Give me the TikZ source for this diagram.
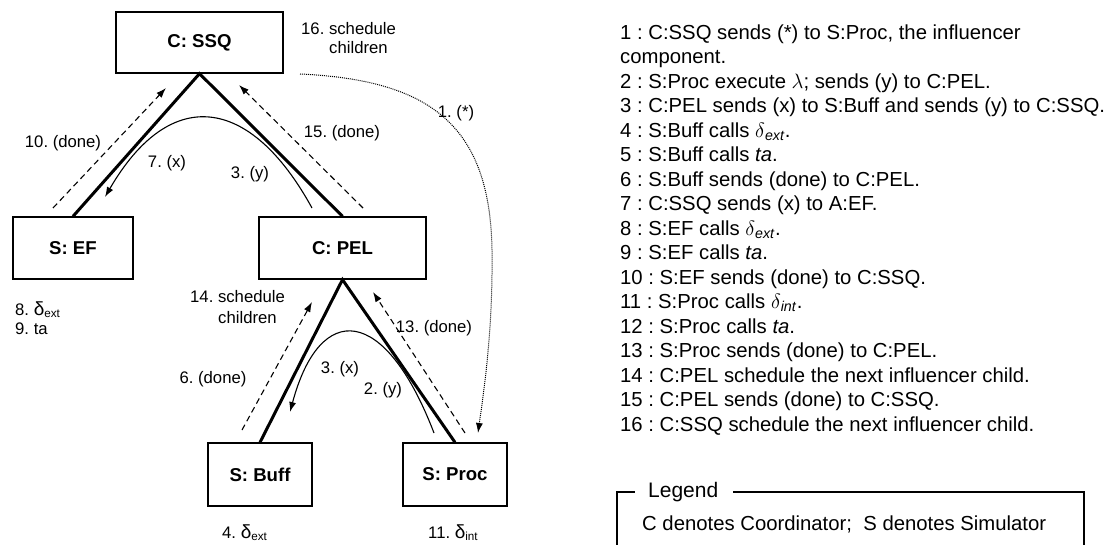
\documentclass[tikz,border=0pt]{standalone}
\usepackage{fontspec}
\setmainfont{Liberation Sans}
\usetikzlibrary{arrows.meta}
\frenchspacing
\begin{document}
\frenchspacing
\begin{tikzpicture}[x=1pt,y=-1pt,
  box/.style={draw,line width=1.3pt,inner sep=0pt,font=\fontsize{18.6}{20}\selectfont\bfseries},
  tree/.style={line width=3pt,line join=miter},
  msg/.style={line width=1.1pt,dash pattern=on 6pt off 4pt,-{Latex[length=10pt,width=7pt]}},
  flow/.style={line width=1.1pt,-{Latex[length=10pt,width=7pt]}},
  sched/.style={line width=1pt,dash pattern=on 1pt off 1pt,-{Latex[length=10pt,width=7pt]}},
  lbl/.style={font=\fontsize{16.7}{19}\selectfont,inner sep=0pt},
  lblb/.style={lbl,anchor=base west},
  item/.style={font=\fontsize{20.3}{24.5}\selectfont,inner sep=0pt,anchor=base west},
  frame/.style={line width=1.2pt}]
\useasboundingbox (0,0) rectangle (1115,545);
\fill[white] (0,0) rectangle (1115,545);

% boxes
\node[box,minimum width=167pt,minimum height=61pt] (ssq) at (199.5,42.5) {C: SSQ};
\node[box,minimum width=120pt,minimum height=62pt] (ef) at (73,248) {S: EF};
\node[box,minimum width=167pt,minimum height=62pt] (pel) at (342.5,248) {C: PEL};
\node[box,minimum width=104pt,minimum height=63pt] (buff) at (260,474.5) {S: Buff};
\node[box,minimum width=104pt,minimum height=63pt] (proc) at (455,474.5) {S: Proc};

% tree
\draw[tree] (ef.north) -- (ssq.south) -- (pel.north);
\draw[tree] (buff.north) -- (pel.south) -- (proc.north);

% message coordinates
\coordinate (d10s) at (53,208);  \coordinate (d10e) at (166,88);
\coordinate (d15s) at (363,208); \coordinate (d15e) at (239,85);
\coordinate (d6s) at (242,430);  \coordinate (d6e) at (312,302);
\coordinate (d13s) at (465,433); \coordinate (d13e) at (373,292);
\coordinate (c7s) at (312,208);  \coordinate (c7e) at (105,197);
\coordinate (c3s) at (434,433);  \coordinate (c3e) at (290,412);
\coordinate (s1s) at (300,74);   \coordinate (s1e) at (478,433);

\draw[msg] (d10s) -- (d10e);
\draw[msg] (d15s) -- (d15e);
\draw[msg] (d6s) -- (d6e);
\draw[msg] (d13s) -- (d13e);
\draw[flow] (c7s) .. controls (250,95) and (170,85) .. (c7e);
\draw[flow] (c3s) .. controls (385,305) and (320,300) .. (c3e);
\draw[sched] (s1s) .. controls (430,80) and (490,125) .. (492,250) .. controls (493,330) and (484,390) .. (s1e);

% labels
\node[lblb] (l16a) at (301,35) {16. schedule};
\node[lblb] (l16b) at (329,54) {children};
\node[lbl] (l10) at (63,143) {10. (done)};
\node[lbl] (l7) at (167,163) {7. (x)};
\node[lbl] (l3y) at (250,174) {3. (y)};
\node[lbl] (l15) at (342,133) {15. (done)};
\node[lbl] (l1) at (456,113) {1. (*)};
\node[lblb] (l8) at (15,315) {8. {\fontsize{19}{19}\selectfont δ}\textsubscript{ext}};
\node[lblb] (l9) at (15,334) {9. ta};
\node[lblb] (l14a) at (190,302) {14. schedule};
\node[lblb] (l14b) at (218,323) {children};
\node[lbl] (l6) at (213,379) {6. (done)};
\node[lbl] (l13) at (434,328) {13. (done)};
\node[lbl] (l3x) at (340,369) {3. (x)};
\node[lbl] (l2) at (383,390) {2. (y)};
\node[lblb] (l4) at (222,538) {4. {\fontsize{19}{19}\selectfont δ}\textsubscript{ext}};
\node[lblb] (l11) at (428,538) {11. {\fontsize{19}{19}\selectfont δ}\textsubscript{int}};

% list
\node[item] (i0) at (620,39.3) {1 : C:SSQ sends (*) to S:Proc, the influencer};
\node[item] (i1) at (620,63.8) {component.};
\node[item] (i2) at (620,88.3) {2 : S:Proc execute $\lambda$; sends (y) to C:PEL.};
\node[item] (i3) at (620,112.8) {3 : C:PEL sends (x) to S:Buff and sends (y) to C:SSQ.};
\node[item] (i4) at (620,137.3) {4 : S:Buff calls $\delta$\textsubscript{\textit{ext}}.};
\node[item] (i5) at (620,161.8) {5 : S:Buff calls \textit{ta}.};
\node[item] (i6) at (620,186.3) {6 : S:Buff sends (done) to C:PEL.};
\node[item] (i7) at (620,210.8) {7 : C:SSQ sends (x) to A:EF.};
\node[item] (i8) at (620,235.3) {8 : S:EF calls $\delta$\textsubscript{\textit{ext}}.};
\node[item] (i9) at (620,259.8) {9 : S:EF calls \textit{ta}.};
\node[item] (i10) at (620,284.3) {10 : S:EF sends (done) to C:SSQ.};
\node[item] (i11) at (620,308.8) {11 : S:Proc calls $\delta$\textsubscript{\textit{int}}.};
\node[item] (i12) at (620,333.3) {12 : S:Proc calls \textit{ta}.};
\node[item] (i13) at (620,357.8) {13 : S:Proc sends (done) to C:PEL.};
\node[item] (i14) at (620,382.3) {14 : C:PEL schedule the next influencer child.};
\node[item] (i15) at (620,406.8) {15 : C:PEL sends (done) to C:SSQ.};
\node[item] (i16) at (620,431.3) {16 : C:SSQ schedule the next influencer child.};

% legend
\coordinate (lg1) at (617,545); \coordinate (lg2) at (617,492); \coordinate (lg3) at (635,492);
\coordinate (lg4) at (733,492); \coordinate (lg5) at (1084,492); \coordinate (lg6) at (1084,545);
\draw[frame] (lg1) -- (lg2) -- (lg3);
\draw[frame] (lg4) -- (lg5) -- (lg6);
\node[font=\fontsize{21}{24}\selectfont,inner sep=0pt,anchor=west] (legend) at (648,492) {Legend};
\node[font=\fontsize{20.3}{24}\selectfont,inner sep=0pt,anchor=west] (ltext) at (642,524) {C denotes Coordinator;\ \ S denotes Simulator};
\end{tikzpicture}
\end{document}
